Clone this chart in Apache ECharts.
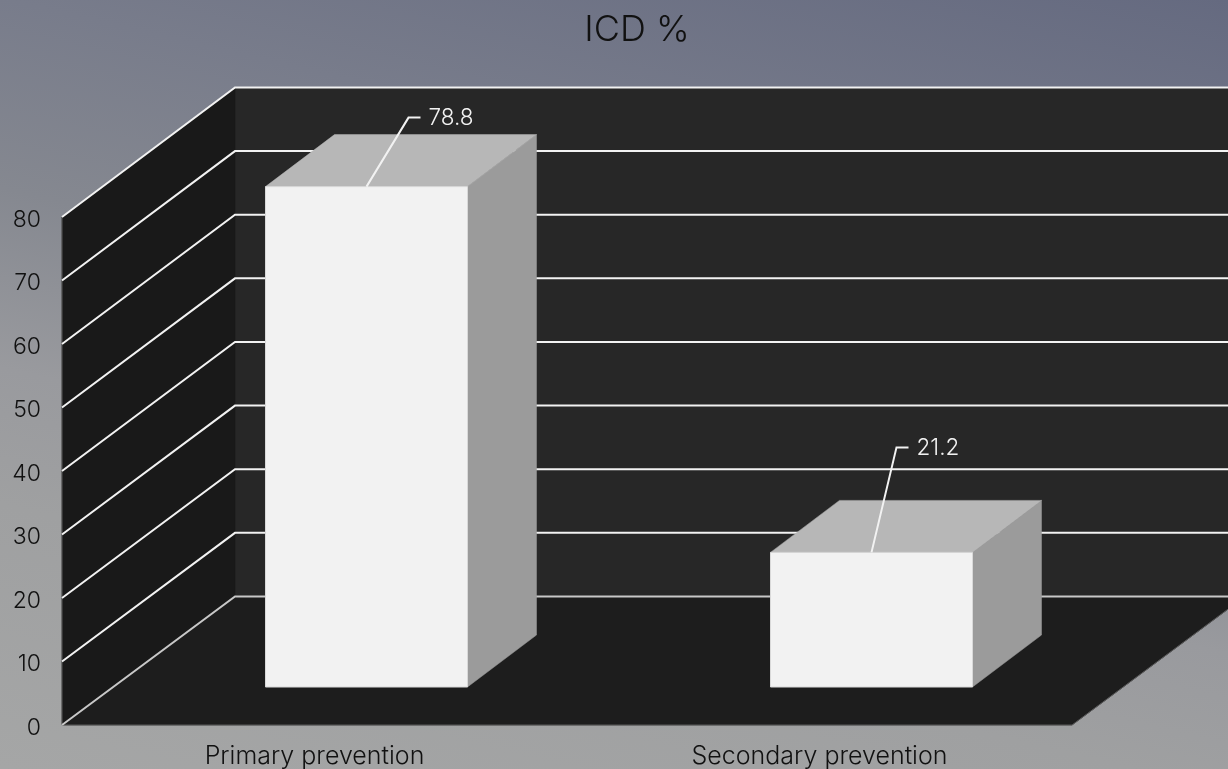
<!DOCTYPE html>
<html><head><meta charset="utf-8">
<style>html,body{margin:0;padding:0;overflow:hidden;background:#8a8c93}#c{width:1228px;height:769px}</style>
<script src="https://cdn.jsdelivr.net/npm/echarts@6/dist/echarts.min.js"></script>
</head><body><div id="c"></div>
<script>
const categories = ['Primary prevention', 'Secondary prevention'];
const icdPercent = [78.8, 21.2];
const valueTicks = [0, 10, 20, 30, 40, 50, 60, 70, 80];
const chartTitle = 'ICD %';
const FONT = 'Inter, Lato, sans-serif';

// projection of the box: depth of the chart floor and depth of the bars
const DX = 173, DY0 = -128.5, DK = 1.002, BX = 52, BY = -38, TX = 69, TY = -52;
const LEADERS = [[42, -69], [25, -105]];

function backY(c, y) {
  const b = c.y + c.height;
  return b + DY0 - (b - y) * DK;
}

function poly(points, fill) {
  return { type: 'polygon', shape: { points }, style: { fill, stroke: fill, lineWidth: 0.5 } };
}

function renderWalls(params, api) {
  const c = params.coordSys;
  const l = c.x, r = c.x + c.width, t = c.y, b = c.y + c.height;
  const bt = backY(c, t), bb = backY(c, b);
  return { type: 'group', silent: true, children: [
    poly([[l + DX, bt], [r + DX, bt], [r + DX, bb], [l + DX, bb]], '#272727'),
    poly([[l, t], [l + DX, bt], [l + DX, bb], [l, b]], '#191919'),
    poly([[l, b], [l + DX, bb], [r + DX, bb], [r, b]], '#1d1d1d'),
    { type: 'polyline', shape: { points: [[l, t], [l, b], [r, b], [r + DX, bb]] },
      style: { stroke: '#5a5a5a', lineWidth: 1, fill: null } }
  ]};
}

function renderGrid(params, api) {
  const c = params.coordSys;
  const tick = api.value(0);
  const p = api.coord([0, tick]);
  const x0 = c.x, y0 = p[1], x1 = c.x + DX, y1 = backY(c, y0), x2 = c.x + c.width + DX;
  const stroke = tick === 0 ? '#c8c8c8' : '#f2f2f2';
  return { type: 'polyline', silent: true, shape: { points: [[x0, y0], [x1, y1], [x2, y1]] },
    style: { stroke, lineWidth: 2, fill: null } };
}

function renderBar(params, api) {
  const idx = api.value(0), val = api.value(1);
  const top = api.coord([idx, val]), base = api.coord([idx, 0]);
  const w = api.size([1, 0])[0] * 0.4;
  const x0 = top[0] + BX - w / 2, x1 = x0 + w;
  const yt = top[1] + BY, yb = base[1] + BY;
  const L = LEADERS[params.dataIndex];
  const sx = top[0] + BX, sy = yt;
  const ex = sx + L[0], ey = sy + L[1];
  return { type: 'group', children: [
    poly([[x1, yt], [x1 + TX, yt + TY], [x1 + TX, yb + TY], [x1, yb]], '#9b9b9b'),
    poly([[x0, yt], [x0 + TX, yt + TY], [x1 + TX, yt + TY], [x1, yt]], '#b7b7b7'),
    { type: 'rect', shape: { x: x0, y: yt, width: w, height: yb - yt },
      style: { fill: '#f2f2f2', stroke: '#d9d9d9', lineWidth: 1 } },
    { type: 'polyline', shape: { points: [[sx, sy], [ex, ey], [ex + 12, ey]] },
      style: { stroke: '#f2f2f2', lineWidth: 2, fill: null } },
    { type: 'text', style: { x: ex + 20, y: ey + 1, text: String(val), fill: '#f2f2f2',
      font: '300 22.5px ' + FONT, align: 'left', verticalAlign: 'middle' } }
  ]};
}

const chart = echarts.init(document.getElementById('c'), null, { renderer: 'canvas' });
chart.setOption({
  animation: false,
  backgroundColor: {
    type: 'linear', x: 1, y: 0, x2: 0.81, y2: 1.3,
    colorStops: [
      { offset: 0, color: '#656a80' },
      { offset: 0.27, color: '#787c8b' },
      { offset: 0.45, color: '#858890' },
      { offset: 0.62, color: '#999a9e' },
      { offset: 0.75, color: '#9fa0a1' },
      { offset: 1, color: '#a5a6a6' }
    ]
  },
  title: {
    text: chartTitle, left: 632, top: 7, textAlign: 'center',
    textStyle: { fontFamily: FONT, fontSize: 36, fontWeight: 300, color: '#111' }
  },
  grid: { left: 62, right: 156, top: 217, bottom: 44, containLabel: false },
  xAxis: {
    type: 'category', data: categories,
    axisLine: { show: false }, axisTick: { show: false }, splitLine: { show: false },
    axisLabel: { fontFamily: FONT, fontSize: 25, fontWeight: 300, color: '#111', margin: 19, interval: 0 }
  },
  yAxis: {
    type: 'value', min: 0, max: 80, interval: 10,
    axisLine: { show: false }, axisTick: { show: false }, splitLine: { show: false },
    axisLabel: { fontFamily: FONT, fontSize: 23, fontWeight: 300, color: '#111', margin: 21,
      verticalAlign: 'top', lineHeight: 6 }
  },
  series: [
    { type: 'custom', name: 'walls', coordinateSystem: 'cartesian2d', z: 1, clip: false, silent: true,
      renderItem: renderWalls, data: [[0, 0]], encode: { x: 0, y: 1 } },
    { type: 'custom', name: 'gridlines', coordinateSystem: 'cartesian2d', z: 2, clip: false, silent: true,
      renderItem: renderGrid, data: valueTicks.map(v => [v]), encode: { y: 0 } },
    { type: 'custom', name: 'ICD %', coordinateSystem: 'cartesian2d', z: 3, clip: false,
      renderItem: renderBar, data: icdPercent.map((v, i) => [i, v]), encode: { x: 0, y: 1 } }
  ]
});
</script></body></html>
